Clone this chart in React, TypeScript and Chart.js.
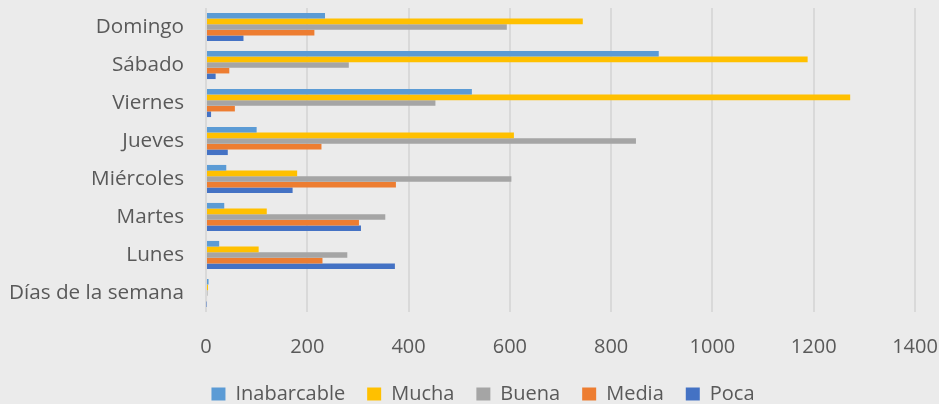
import React, { useEffect, useRef } from "react";
import { Chart, registerables } from "chart.js";

Chart.register(...registerables);

const categories = ["Domingo", "Sábado", "Viernes", "Jueves", "Miércoles", "Martes", "Lunes", "Días de la semana"];
const seriesNames = ["Inabarcable", "Mucha", "Buena", "Media", "Poca"];
const inabarcable = [235, 894, 525, 100, 40, 36, 26, 5];
const mucha = [744, 1188, 1272, 608, 180, 120, 104, 4];
const buena = [594, 282, 453, 849, 603, 354, 279, 3];
const media = [214, 46, 57, 228, 375, 302, 230, 2];
const poca = [74, 19, 10, 43, 171, 306, 373, 1];
const xTicks = [0, 200, 400, 600, 800, 1000, 1200, 1400];

const colors = ["#5B9BD5", "#FFC000", "#A5A5A5", "#ED7D31", "#4472C4"];
const BG = "#EBEBEB";

export default function App() {
  const ref = useRef<HTMLCanvasElement | null>(null);

  useEffect(() => {
    document.body.style.margin = "0";
    const canvas = ref.current;
    if (!canvas) return;
    const values = [inabarcable, mucha, buena, media, poca];
    const family = "'Open Sans', sans-serif";
    const chart = new Chart(canvas, {
      type: "bar",
      data: {
        labels: categories,
        datasets: seriesNames.map((name, i) => ({
          label: name,
          data: values[i],
          backgroundColor: colors[i],
          borderWidth: 0,
          categoryPercentage: 0.74,
          barPercentage: 1.0,
        })),
      },
      options: {
        indexAxis: "y",
        animation: false,
        responsive: false,
        devicePixelRatio: 1,
        layout: { padding: { top: 8, left: 9, right: 24, bottom: 0 } },
        plugins: {
          legend: {
            position: "bottom",
            labels: {
              boxWidth: 14,
              boxHeight: 13,
              padding: 22,
              color: "#595959",
              font: { family, size: 20 },
            },
          },
          tooltip: { enabled: false },
        },
        scales: {
          x: {
            min: 0,
            max: 1400,
            afterBuildTicks: (scale: any) => {
              scale.ticks = xTicks.map((v) => ({ value: v }));
            },
            afterFit: (scale: any) => {
              scale.paddingLeft = 0;
              scale.paddingRight = 0;
              scale.height = 50;
            },
            grid: { color: "#D9D9D9", lineWidth: 2, drawTicks: false },
            border: { display: false },
            ticks: {
              color: "#595959",
              font: { family, size: 20 },
              padding: 23,
              maxRotation: 0,
              callback: (v: any) => String(v),
            },
          },
          y: {
            afterFit: (scale: any) => {
              scale.paddingTop = 0;
              scale.paddingBottom = 0;
              scale.width = scale.width - 22;
            },
            grid: { display: false, drawTicks: false },
            border: { display: false },
            ticks: { color: "#595959", font: { family, size: 20.7 }, padding: 22 },
          },
        },
      },
      plugins: [
        {
          id: "bg",
          beforeDraw: (c: any) => {
            const ctx = c.ctx;
            ctx.save();
            ctx.fillStyle = BG;
            ctx.fillRect(0, 0, c.width, c.height);
            ctx.restore();
          },
        },
        {
          id: "shiftLegend",
          afterLayout: (c: any) => {
            if (c.legend) {
              c.legend.left += 21;
              c.legend.right += 21;
            }
          },
        },
      ],
    });
    return () => chart.destroy();
  }, []);

  return (
    <div style={{ width: 939, height: 404, overflow: "hidden", background: BG }}>
      <canvas ref={ref} width={939} height={414} style={{ width: 939, height: 414, display: "block" }} />
    </div>
  );
}
